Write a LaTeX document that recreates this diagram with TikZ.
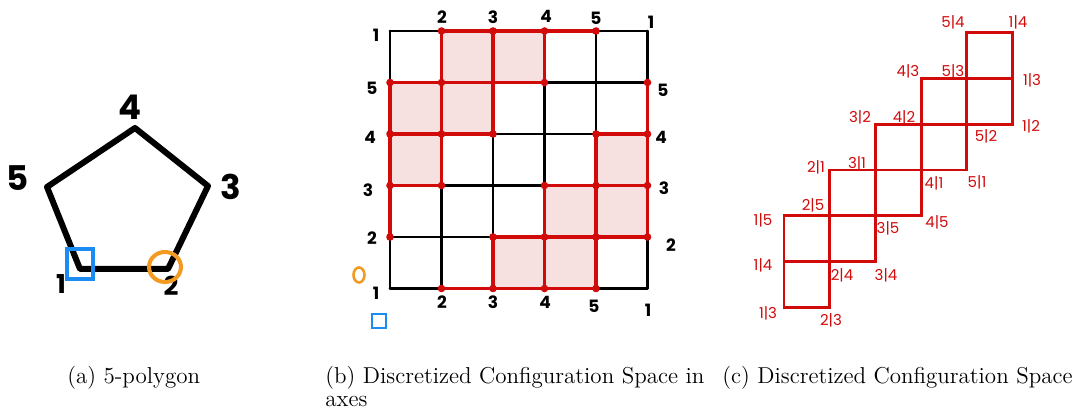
\documentclass[tikz,border=0pt]{standalone}
\usepackage{fontspec}
\usepackage{xcolor}
\usetikzlibrary{positioning, calc}
\newfontfamily\handfont{Poppins}
\definecolor{handred}{HTML}{D10A0A}
\definecolor{lightpink}{HTML}{F6E0E0}
\definecolor{markblue}{HTML}{1C8CF5}
\definecolor{markorange}{HTML}{F29A22}

\begin{document}
\begin{tikzpicture}[x=0.5pt, y=-0.5pt,
    penline/.style={line width=3pt, line cap=round, line join=round},
    gridline/.style={line width=1.4pt, line cap=round},
    redline/.style={handred, line width=1.7pt, line cap=round},
    bigdigit/.style={font=\handfont\bfseries\fontsize{17}{17}\selectfont, inner sep=0pt},
    axisdigit/.style={font=\handfont\bfseries\fontsize{8.5}{9}\selectfont, inner sep=0pt},
    pairlabel/.style={text=handred, font=\handfont\fontsize{7.5}{8}\selectfont, inner sep=0pt},
    caption/.style={inner sep=0pt, anchor=north west, align=left,
                    font=\fontsize{11.5}{11.6}\selectfont}]
  \useasboundingbox (0,0) rectangle (1080,410);

  % (a) pentagon
  \coordinate (v1) at (80,269);
  \coordinate (v2) at (168,269);
  \coordinate (v3) at (208,186);
  \coordinate (v4) at (135,128);
  \coordinate (v5) at (47,187);
  \draw[penline] (v1) -- (v2) -- (v3) -- (v4) -- (v5) -- cycle;
  \node[bigdigit] (p4) at (130,107) {4};
  \node[bigdigit] (p5) at (18,178) {5};
  \node[bigdigit] (p3) at (231,187) {3};
  \node[bigdigit, font=\handfont\bfseries\fontsize{13}{13}\selectfont] (p1) at (61,284) {1};
  \node[bigdigit, font=\handfont\bfseries\fontsize{13}{13}\selectfont] (p2) at (171,286) {2};
  \draw[markblue, line width=2pt] (67,249) rectangle (93,279);
  \draw[markorange, line width=2pt] (165,267) ellipse (16 and 15);

  % (b) grid
  \begin{scope}[shift={(390,31)}, x=25.75pt, y=-25.75pt]
    \foreach \c/\r in {1/0,2/0,0/1,1/1,0/2,4/2,3/3,4/3,2/4,3/4}
      \fill[lightpink] (\c,\r) rectangle ++(1,1);
    \foreach \k in {0,...,5} {
      \draw[gridline] (\k,0) -- (\k,5);
      \draw[gridline] (0,\k) -- (5,\k);
    }
    \foreach \c/\r in {1/0,2/0,0/1,1/1,0/2,4/2,3/3,4/3,2/4,3/4}
      \draw[redline] (\c,\r) rectangle ++(1,1);
    \draw[redline] (1,0) -- (4,0) (0,1) -- (0,4) (5,1) -- (5,4) (1,5) -- (4,5);
    \foreach \c/\r in {1/0,2/0,3/0,4/0, 0/1,1/1,3/1,5/1, 0/2,1/2,2/2,4/2,5/2,
                       0/3,1/3,3/3,4/3,5/3, 0/4,2/4,3/4,4/4,5/4, 1/5,2/5,3/5,4/5}
      \fill[handred] (\c,\r) circle (1.9pt);
  \end{scope}
  \foreach \lab/\x/\y [count=\n] in {1/376/35, 2/442/17, 3/493/17, 4/546/16, 5/596/18, 1/651/22,
      5/372/88, 4/370/137, 3/368/190, 2/372/238, 1/376/293,
      5/663/90, 4/661/137, 3/664/188, 2/671/245,
      2/442/302, 3/493/302, 4/545/302, 5/594/306, 1/648/310}
    \node[axisdigit] (g\n) at (\x,\y) {\lab};
  \draw[markorange, line width=1.3pt] (359,275) ellipse (5.5 and 7.5);
  \draw[markblue, line width=1.3pt] (372,314) rectangle (386,328);

  % (c) staircase
  \begin{scope}[shift={(784,32.7)}, x=22.85pt, y=-22.9pt]
    \foreach \k [evaluate=\k as \r using int(4-\k)] in {0,...,4} {
      \draw[redline, line width=1.4pt] (\k,\r) rectangle ++(1,1);
      \draw[redline, line width=1.4pt] (\k,\r+1) rectangle ++(1,1);
    }
  \end{scope}
  \foreach \lab/\x/\y [count=\n] in {5|4/953/22, 1|4/1018/22,
      4|3/908/71, 5|3/953/71, 1|3/1032/80,
      3|2/860/117, 4|2/904/117, 1|2/1031/126, 5|2/986/136,
      2|1/816/167, 3|1/857/163, 4|1/934/183, 5|1/977/182,
      1|5/763/220, 2|5/813/205, 3|5/888/228, 4|5/937/222,
      1|4/763/265, 2|4/842/275, 3|4/886/275,
      1|3/768/313, 2|3/831/320}
    \node[pairlabel] (s\n) at (\x,\y) {\lab};

  % captions
  \node[caption] (capa) at (67,366) {(a) 5-polygon};
  \node[caption] (capb) at (325,366) {(b) Discretized Configuration Space in\\axes};
  \node[caption] (capc) at (722,366) {(c) Discretized Configuration Space};
\end{tikzpicture}
\end{document}
